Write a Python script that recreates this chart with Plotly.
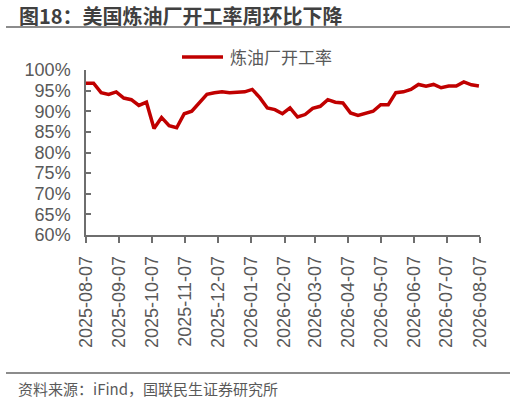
"""图18：美国炼油厂开工率周环比下降 —— 周度折线。"""

import pandas as pd
import plotly.graph_objects as go

# 周度日期（每周四），2025-08-07 起共 53 周
week_dates = pd.date_range("2025-08-07", periods=53, freq="7D")

# 炼油厂开工率（%）
utilization_pct = [
    96.8, 96.8, 94.5, 94.1, 94.7, 93.2, 92.8, 91.4, 92.2, 85.8,
    88.5, 86.5, 86.0, 89.4, 90.0, 92.2, 94.1, 94.5, 94.7, 94.5,
    94.6, 94.7, 95.3, 93.3, 90.8, 90.4, 89.4, 90.8, 88.6, 89.2,
    90.7, 91.2, 92.8, 92.2, 92.0, 89.6, 89.0, 89.6, 90.0, 91.6,
    91.6, 94.5, 94.7, 95.3, 96.5, 96.1, 96.5, 95.7, 96.1, 96.1,
    97.1, 96.4, 96.1,
]

tick_dates = [
    "2025-08-07", "2025-09-07", "2025-10-07", "2025-11-07", "2025-12-07",
    "2026-01-07", "2026-02-07", "2026-03-07", "2026-04-07", "2026-05-07",
    "2026-06-07", "2026-07-07", "2026-08-07",
]

W, H = 516, 400
L, R, T, B = 86, 36, 70, 165
PW, PH = W - L - R, H - T - B

CJK = "Noto Sans CJK SC"
GREY = "#595959"
AXIS = "#6e6e6e"
RED = "#C00000"


def px(x):
    return (x - L) / PW


def py(y):
    return (H - B - y) / PH


fig = go.Figure()

fig.add_trace(
    go.Scatter(
        x=week_dates,
        y=utilization_pct,
        mode="lines",
        line=dict(color=RED, width=3.5),
        name="炼油厂开工率",
        showlegend=False,
    )
)

fig.update_layout(
    width=W,
    height=H,
    margin=dict(l=L, r=R, t=T, b=B, autoexpand=False),
    paper_bgcolor="white",
    plot_bgcolor="white",
    font=dict(family="Liberation Sans, Arial, sans-serif", color=GREY),
    xaxis=dict(
        type="date",
        range=[tick_dates[0], tick_dates[-1]],
        tickvals=tick_dates,
        tickformat="%Y-%m-%d",
        tickangle=-90,
        tickfont=dict(size=18, color=GREY),
        showgrid=False,
        zeroline=False,
        showline=True,
        linecolor=AXIS,
        linewidth=1.5,
        ticks="outside",
        ticklen=6,
        tickcolor=AXIS,
        tickwidth=1.5,
        ticklabelstandoff=6,
    ),
    yaxis=dict(
        range=[60, 100],
        dtick=5,
        ticksuffix="%",
        tickfont=dict(size=18, color=GREY),
        showgrid=False,
        zeroline=False,
        showline=True,
        linecolor=AXIS,
        linewidth=1.5,
        ticks="inside",
        ticklen=5,
        tickcolor=AXIS,
        tickwidth=1.5,
        ticklabelstandoff=10,
    ),
)

# 标题与上下分隔线
fig.add_annotation(
    xref="paper", yref="paper", x=px(17), y=py(16),
    xanchor="left", yanchor="middle", showarrow=False,
    text="<b>图18：美国炼油厂开工率周环比下降</b>",
    font=dict(family=CJK, size=20, color="#404040"),
)
fig.add_shape(
    type="line", xref="paper", yref="paper",
    x0=px(6), x1=px(510), y0=py(27), y1=py(27),
    line=dict(color="#666666", width=1.5),
)
fig.add_shape(
    type="line", xref="paper", yref="paper",
    x0=px(6), x1=px(510), y0=py(373), y1=py(373),
    line=dict(color="#666666", width=1.5),
)

# 图例（手绘，线段比默认更长）
fig.add_shape(
    type="line", xref="paper", yref="paper",
    x0=px(182), x1=px(223), y0=py(57), y1=py(57),
    line=dict(color=RED, width=3.5),
)
fig.add_annotation(
    xref="paper", yref="paper", x=px(228), y=py(57),
    xanchor="left", yanchor="middle", showarrow=False,
    text="炼油厂开工率",
    font=dict(family=CJK, size=17, color=GREY),
)

# 资料来源
fig.add_annotation(
    xref="paper", yref="paper", x=px(16), y=py(388),
    xanchor="left", yanchor="middle", showarrow=False,
    text="资料来源：iFind，国联民生证券研究所",
    font=dict(family=CJK, size=15, color=GREY),
)

# 去掉页面默认的 8px 边距，让图与窗口对齐；隐藏工具栏
fig.write_html(
    "out.html",
    config={"displayModeBar": False},
    post_script="document.body.style.margin='0';",
)
